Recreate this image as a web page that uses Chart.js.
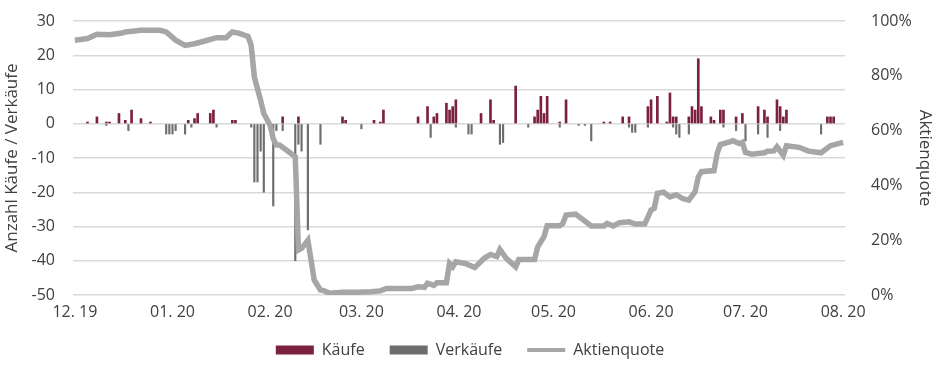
<html>
  <head>
    <script src="https://cdn.jsdelivr.net/npm/chart.js@4/dist/chart.umd.min.js"></script>
    <style>
      body { margin: 0; background: #fff; }
    </style>
  </head>
  <body>
    <canvas id="quoteChart" width="940" height="374"></canvas>
    <script>
      // days counted from 1 Dec 2019
      var monthDays = [0, 31, 62, 91, 122, 152, 183, 213, 244];
      var monthLabels = ["12. 19", "01. 20", "02. 20", "03. 20", "04. 20", "05. 20", "06. 20", "07. 20", "08. 20"];

      var buyDays = [4, 7, 10, 11, 14, 16, 18, 21, 24, 36, 38, 39, 43, 44, 50, 51, 66, 71, 85, 86, 95, 97, 98,
        109, 112, 114, 115, 118, 119, 120, 121, 129, 132, 133, 140, 146, 147, 148, 149, 150, 154, 156,
        168, 170, 174, 176, 182, 183, 185, 188, 189, 190, 191, 195, 196, 197, 198, 199, 202, 203, 205, 206,
        210, 212, 217, 219, 220, 223, 224, 225, 226, 239, 240, 241];
      var buyValues = [0.5, 2, 0.5, 0.5, 3, 1, 4, 1.5, 0.5, 1, 1.5, 3, 3, 4, 1, 1, 2, 2, 2, 1, 1, 0.5, 4,
        2, 5, 2, 3, 6, 4, 5, 7, 3, 7, 1, 11, 2, 4, 8, 3, 8, 0.5, 7,
        0.5, 0.5, 2, 2, 5, 7, 8, 0.5, 9, 2, 2, 2, 5, 4, 19, 5, 2, 1, 4, 4,
        2, 3, 5, 4, 2, 7, 5, 2, 4, 2, 2, 2];

      var sellDays = [10, 17, 29, 30, 31, 32, 35, 37, 45, 56, 57, 58, 59, 60, 63, 64, 66, 70, 71, 72, 74, 78,
        91, 113, 121, 125, 126, 135, 136, 144, 154, 160, 162, 164, 176, 177, 178, 182, 190, 191, 192,
        195, 206, 210, 213, 217, 220, 224, 237];
      var sellValues = [-0.5, -2, -3, -3, -3, -2, -3, -1, -1, -1, -17, -17, -8, -20, -24, -2, -2, -40, -6, -8, -31, -6,
        -1.5, -4, -1, -3, -3, -6, -5.5, -1, -1, -0.5, -0.5, -5, -1, -2.5, -2.5, -1, -1, -3, -4,
        -3, -1, -2, -5, -3, -4, -2, -3];

      var quoteDays = [0, 4, 7, 11, 15, 16, 21, 27, 29, 32, 35, 38, 41, 45, 48, 50, 52, 55, 56, 57, 59, 60, 62, 63,
        64, 65, 68, 70, 71, 72, 73, 74, 75, 76, 78, 79, 81, 85, 90, 94, 97, 99, 107, 109, 111, 112, 114, 115,
        118, 119, 120, 121, 124, 127, 130, 132, 134, 135, 137, 140, 141, 144, 146, 147, 149, 150, 154, 155,
        156, 159, 160, 164, 168, 169, 171, 173, 176, 178, 181, 183, 184, 185, 187, 189, 191, 193, 195, 197,
        198, 199, 203, 204, 205, 208, 209, 211, 212, 213, 215, 219, 220, 222, 223, 225, 226, 230, 233, 237,
        240, 244];
      var quoteValues = [93, 93.6, 95.2, 95, 95.6, 96, 96.6, 96.6, 96, 93, 91.1, 91.7, 92.6, 93.9, 93.9, 96, 95.6,
        94.4, 91.1, 79.6, 71, 66.2, 62, 57, 54.7, 54.7, 52.2, 50.4, 16.4, 17, 18.5, 20, 12.8, 5.5, 1.8, 1.6,
        0.6, 1, 1, 1.2, 1.5, 2.4, 2.4, 3, 2.8, 4.3, 3.5, 4.5, 4.5, 11.5, 10.3, 12.1, 11.5, 10, 13.4, 14.8, 14,
        16.6, 13.4, 10.3, 13, 13, 13, 17.6, 21.3, 25.3, 25.3, 26.1, 29.2, 29.5, 28.7, 25.2, 25.2, 26.1, 25.2,
        26.4, 26.7, 25.9, 25.9, 31, 31.6, 37.1, 37.5, 35.8, 36.6, 35.2, 34.6, 37.7, 43.1, 45, 45.4, 51.7, 54.9,
        55.9, 56.3, 55.3, 55.7, 52, 51.4, 51.9, 52.5, 52.6, 54.1, 51, 54.5, 53.9, 52.5, 51.9, 54.5, 55.7];

      var colors = {
        buy: "#7b2040",
        sell: "#6d6d6d",
        quote: "#a6a6a6",
        grid: "#d9d9d9",
        text: "#404040",
      };
      var font = { family: "'Open Sans'", size: 16 };

      var toPoints = (days, values) => days.map((d, i) => ({ x: d, y: values[i] }));

      // fixed axis sizes so the plot area sits where the original one does
      var fixWidth = (w) => (scale) => {
        scale.width = w;
        scale.paddingTop = 0;
      };

      var ctx = document.getElementById("quoteChart").getContext("2d");
      var myChart = new Chart(ctx, {
        type: "bar",
        data: {
          datasets: [
            {
              label: "Käufe",
              data: toPoints(buyDays, buyValues),
              backgroundColor: colors.buy,
              barThickness: 2,
              grouped: false,
              yAxisID: "y",
            },
            {
              label: "Verkäufe",
              data: toPoints(sellDays, sellValues),
              backgroundColor: colors.sell,
              barThickness: 1.5,
              grouped: false,
              yAxisID: "y",
            },
            {
              type: "line",
              label: "Aktienquote",
              data: toPoints(quoteDays, quoteValues),
              borderColor: colors.quote,
              backgroundColor: colors.quote,
              borderWidth: 5.5,
              pointRadius: 0,
              tension: 0,
              yAxisID: "y2",
              order: -1,
            },
          ],
        },
        options: {
          responsive: false,
          animation: false,
          layout: { padding: { top: 21, bottom: 6 } },
          plugins: {
            tooltip: { enabled: false },
            legend: {
              position: "bottom",
              labels: {
                font: font,
                color: colors.text,
                usePointStyle: true,
                pointStyleWidth: 38,
                boxHeight: 9,
                padding: 25,
                sort: (a, b) => a.datasetIndex - b.datasetIndex,
                generateLabels: (chart) => {
                  var items = Chart.defaults.plugins.legend.labels.generateLabels(chart);
                  items.forEach((it) => {
                    if (it.datasetIndex < 2) {
                      it.pointStyle = "rect";
                      it.lineWidth = 0;
                    } else {
                      it.pointStyle = "line";
                      it.lineWidth = 4;
                      it.strokeStyle = colors.quote;
                    }
                  });
                  return items;
                },
              },
            },
          },
          scales: {
            x: {
              type: "linear",
              min: -0.6,
              max: 244.6,
              offset: false,
              grid: { display: false, offset: false },
              border: { display: false },
              afterBuildTicks: (scale) => {
                scale.ticks = monthDays.map((v) => ({ value: v }));
              },
              afterFit: (scale) => {
                scale.height = 22;
              },
              ticks: {
                callback: (v, i) => monthLabels[i],
                autoSkip: false,
                maxRotation: 0,
                padding: 0,
                font: font,
                color: colors.text,
              },
            },
            y: {
              position: "left",
              min: -50,
              max: 30,
              ticks: { stepSize: 10, padding: 18, font: font, color: colors.text },
              grid: { color: colors.grid, lineWidth: 1.5, drawTicks: false },
              border: { display: false },
              title: {
                display: true,
                text: "Anzahl Käufe / Verkäufe",
                font: { family: "'Open Sans'", size: 17 },
                color: colors.text,
                padding: { top: 2, bottom: 0 },
              },
              afterFit: fixWidth(73),
            },
            y2: {
              position: "right",
              min: 0,
              max: 100,
              ticks: {
                stepSize: 20,
                padding: 18,
                font: font,
                color: colors.text,
                callback: (v) => v + "%",
              },
              grid: { display: false },
              border: { display: false },
              title: {
                display: true,
                text: "Aktienquote",
                font: { family: "'Open Sans'", size: 17 },
                color: colors.text,
                padding: { top: 5, bottom: 0 },
              },
              afterFit: fixWidth(95),
            },
          },
        },
      });
    </script>
  </body>
</html>
